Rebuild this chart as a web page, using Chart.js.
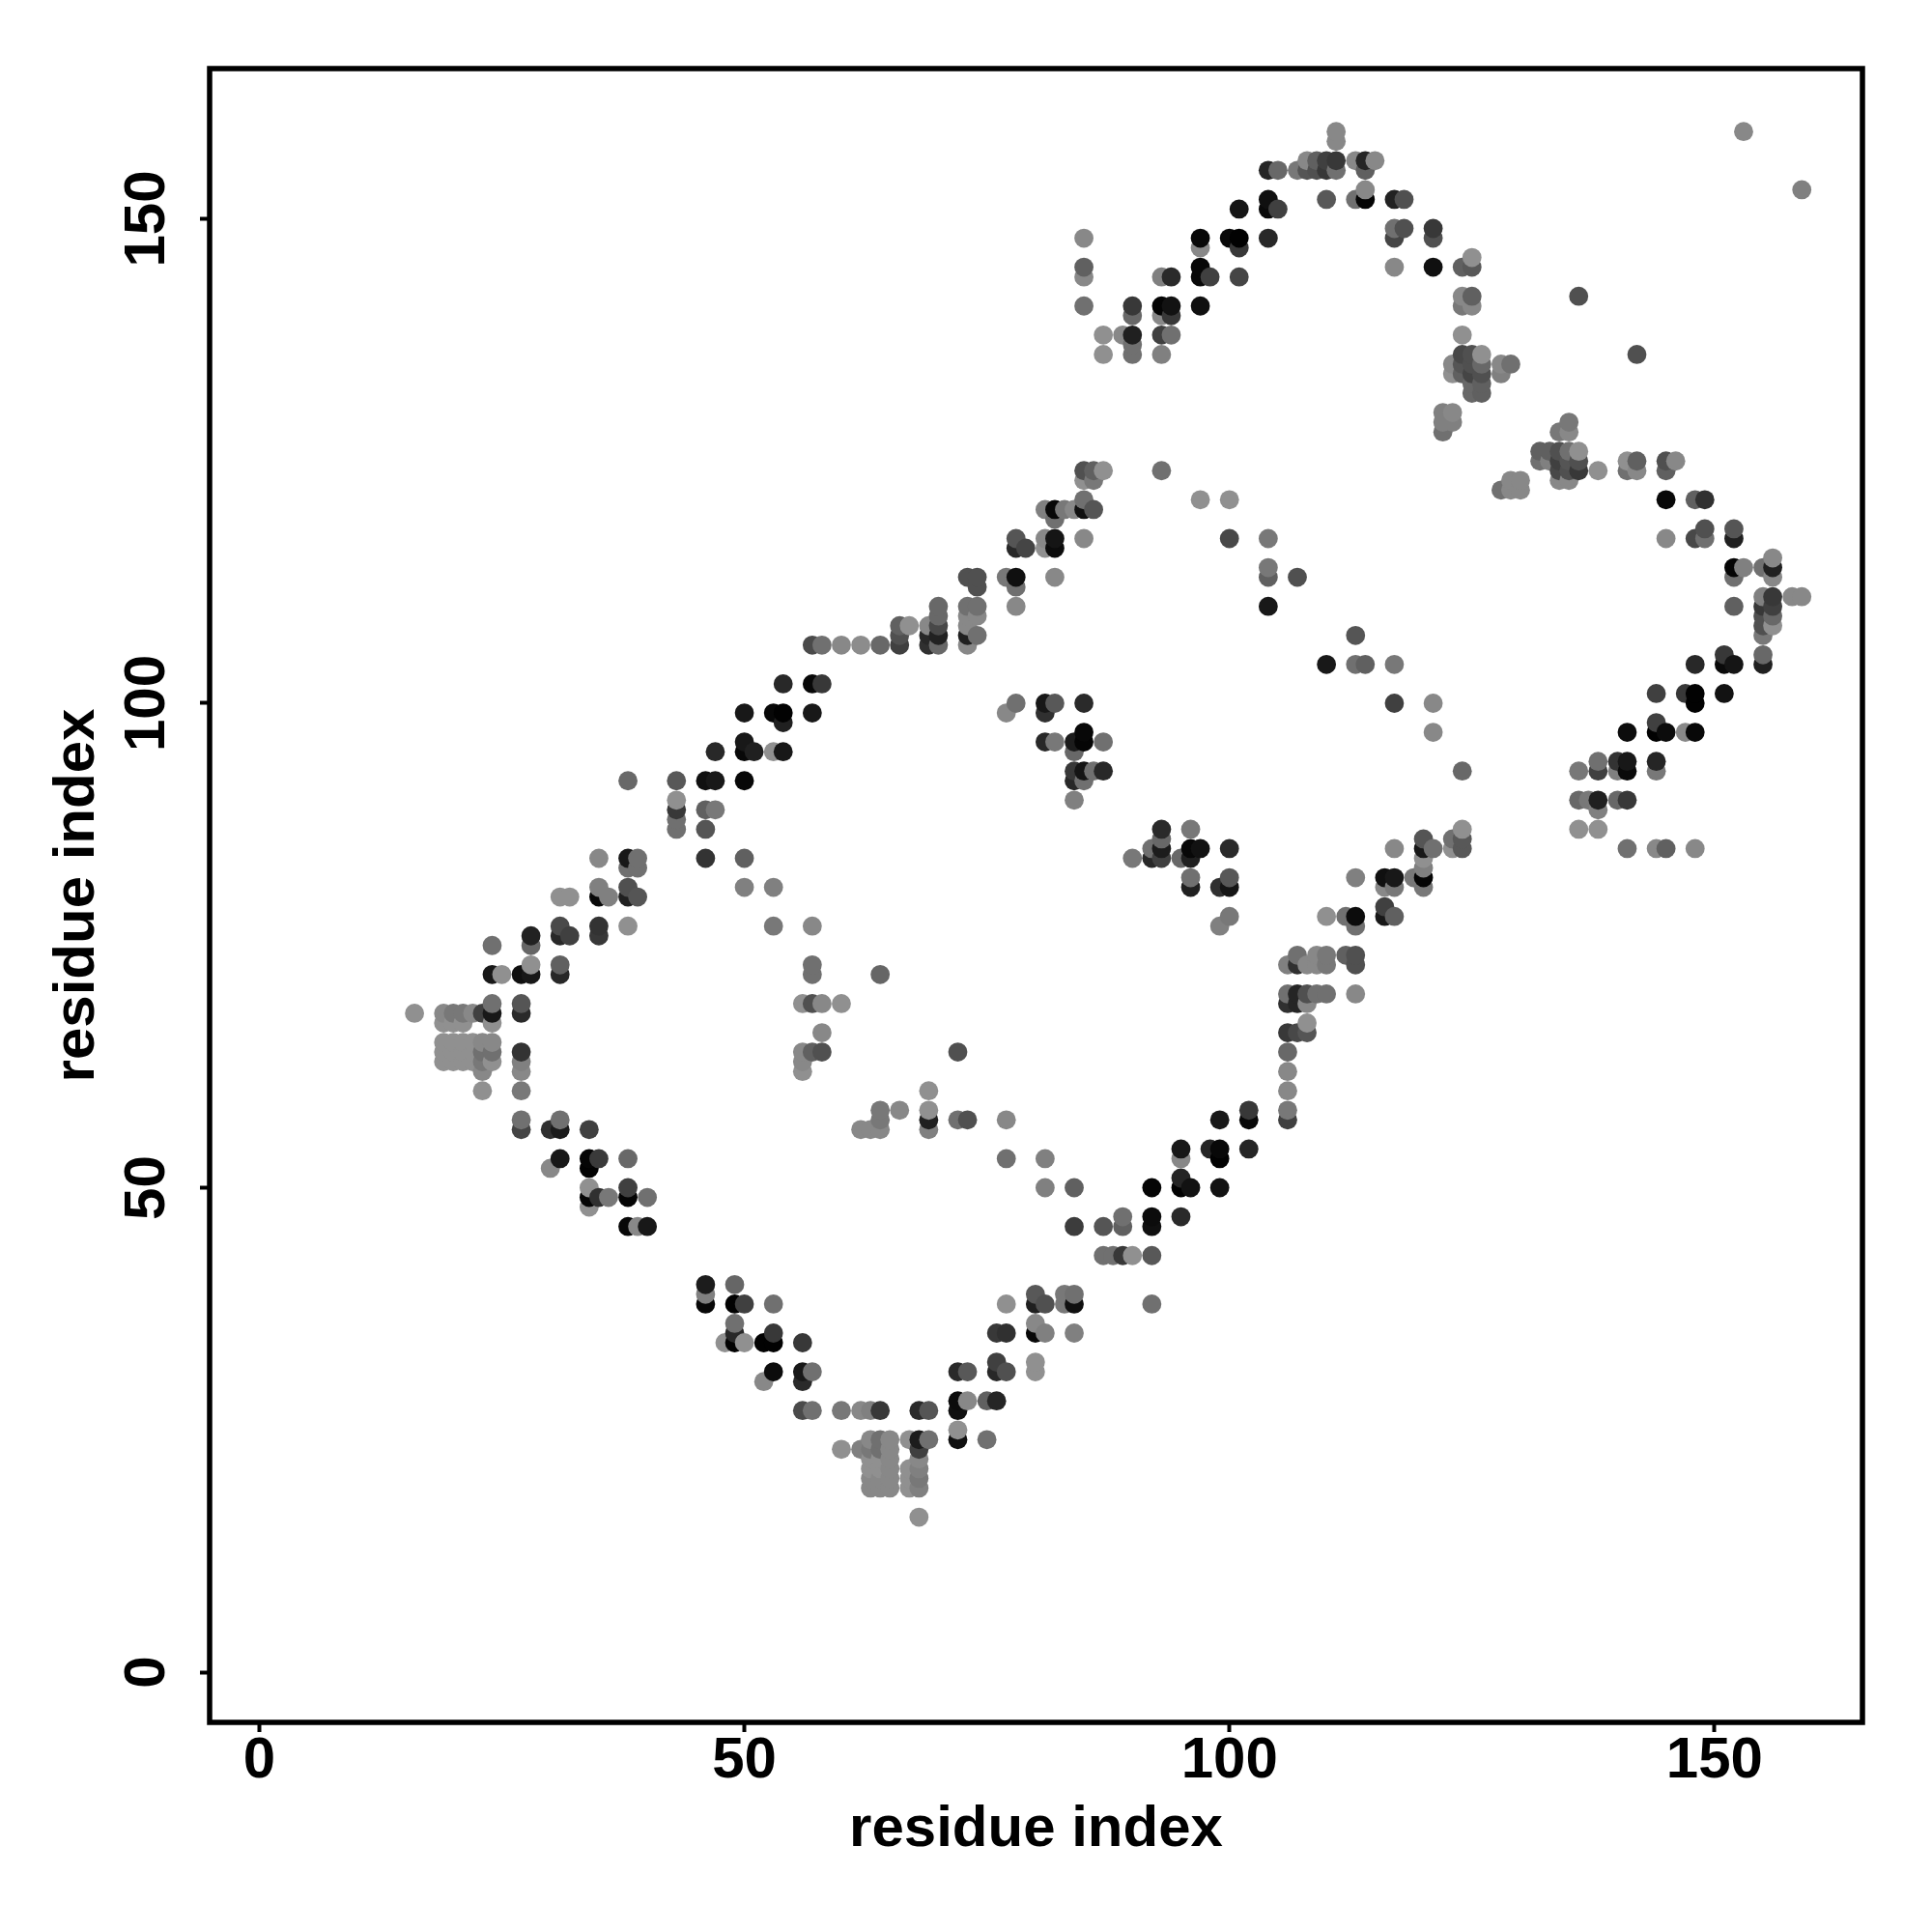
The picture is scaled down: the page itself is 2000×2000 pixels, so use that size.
<!DOCTYPE html>
<html>
<head>
<meta charset="utf-8">
<style>html,body{margin:0;padding:0;background:#fff}#wrap{width:2000px;height:2000px}</style>
<script src="https://cdn.jsdelivr.net/npm/chart.js@4"></script>
</head>
<body>
<div id="wrap"><canvas id="c" width="2000" height="2000"></canvas></div>
<script>
const axisTicks = [0, 50, 100, 150];
const axisTitle = 'residue index';

const residueI = [16,19,20,21,22,23,24,25,27,28,30,31,32,34,35,36,38,39,40,43,46,47,48,49,50,51,52,53,54,56,57,58,60,62,63,64,65,66,67,68,69,70,72,73,74,75,76,77,78,79,80,81,82,83,84,85,86,87,88,89,90,92,93,94,95,96,97,98,99,100,101,102,104,105,106,107,108,109,110,111,112,113,114,115,116,117,118,119,120,121,122,123,124,125,126,128,129,130,132,133,134,135,136,137,138,140,141,142,144,145,146,147,148,149,151,152,153,155,156,158,159];

const partnerJ = [
[68],[63,64,65,67,68],[63,64,65,67,68],[63,64,65,67,68],[63,64,65,68],[60,62,63,64,65,68],[63,64,65,67,68,69,72,75],[72],
[56,57,60,62,63,64,68,69,72],[72,73,75,76],[52,56],[53,56,57,72,73,76,77,80],[76,80],[48,49,50,52,53,56],[49,53,76,77,80,81,84],[49,80],
[46,49,50,53,77,80,81,83,84,92],[46,80,83,84],[46,49],[87,88,89,90,92],[38,39,40,84,87,89,92],[89,92,95],[34],[34,35,36,38,40],
[34,38,81,84,92,95,96,99],[95],[30,34],[31,34,35,38,77,81,95,99],[95,98,99,102],[27,30,31,34,62,63,64,69],[27,31,64,69,72,73,77,99,102,106],[64,66,69,102,106],
[23,27,69,106],[23,27,56,106],[19,20,21,22,23,24,27,56],[19,20,21,22,23,24,27,56,57,58,72,106],[19,20,21,22,23,24],[58,106,107,108],[19,20,21,24,108],[16,19,20,21,22,23,24,27],
[24,27,56,57,58,60,106,107,108],[106,107,108,109,110],[24,25,27,28,31,57,64],[28,31,57,106,107,108,109,110,113],[107,109,110,112,113],[24,28],[28,31,32,35],[31,35,38,53,57,99,113],
[100,110,112,113,116,117],[116],[31,32,35,36,38,39],[35,38,50,53,96,99,100,116,117,120],[96,100,113,116,117,119,120],[38,39,120],[35,38,39,46,50,90,92,93,95,96,120],[92,93,96,97,100,117,120,121,123,124,141,144,145,148],
[93,120,123,124],[43,46,93,96,124,136,138],[43],[43,46,47,138],[43,84,136,137,138,140,141],[38,43,46,47,50,84,85],[84,85,86,87,124,136,138,140,141,144],[138,140,141,144],
[47,50,51,53,54,84],[50,81,82,84,85,87],[85,121,141,144,145,147,148],[54,144],[50,53,54,57,77,81],[78,81,82,85,117,121,148],[144,147,148,151],[54,57,58],
[110,113,114,117,148,151,152,155],[151,155],[57,58,60,62,64,66,69,70,73],[66,69,70,73,74,113,155],[66,67,69,70,73,155,156],[70,73,74,155,156],[70,73,74,78,104,152,155,156],[155,156,158,159],
[74,78],[70,73,74,77,78,82,104,107,152,156],[104,152,153,155,156],[156],[78,79,81,82],[78,81,82,85,100,104,145,148,149,152],[149,152],[82],
[81,82,83,84,85,86],[85,97,100,145,148,149],[128,129,130],[85,86,129,130,134,135],[85,86,87,93,134,135,136,138,141,142,145],[132,133,134,135,136,141,142,145,146],[132,133,134,135,136],[122,134,135],
[122,123,135],[122,123],[125,126],[125,126],[123,124,125,126,128],[123,124,125,126,128,129],[87,90,93,124,125,126,142],[90],
[87,89,90,93,94,124],[90,93,94],[85,90,93,94,97,124,125],[124,125,136],[85,93,94,97,98,101],[85,97,117,121,124,125],[125],[97,101],
[85,97,100,101,104,117,121],[117,118,121],[101,104,105],[104,110,113,114,117,118],[114,159],[104,105,107,108,109,110,111,114],[108,109,110,111,113,114,115],[111],[111,153]
];

const shadeLevel = [
[0x90],[0x90,0x90,0x90,0x90,0x88],[0x90,0x90,0x90,0x90,0x78],[0x90,0x90,0x90,0x90,0x78],[0x90,0x90,0x90,0x88],[0x90,0x88,0x78,0x70,0x88,0x40],[0x90,0x70,0x88,0x90,0x18,0x70,0x18,0x70],[0x90],
[0x44,0x70,0x78,0x88,0x80,0x33,0x2a,0x55,0x10],[0x18,0x90,0x66,0x22],[0x88,0x30],[0x18,0x1a,0x70,0x28,0x60,0x28,0x4a,0x90],[0x40,0x90],[0x90,0x05,0x90,0x02,0x05,0x40],[0x30,0x3a,0x38,0x33,0x08,0x80,0x88],[0x78,0x80],
[0x08,0x05,0x40,0x68,0x90,0x20,0x50,0x70,0x18,0x68],[0x88,0x55,0x70,0x70],[0x18,0x70],[0x70,0x70,0x38,0x90,0x58],[0x08,0x80,0x1c,0x33,0x55,0x60,0x10],[0x78,0x18,0x28],[0x90],[0x02,0x28,0x70,0x02,0x66],
[0x90,0x40,0x80,0x60,0x08,0x08,0x18,0x18],[0x20],[0x88,0x02],[0x0c,0x02,0x38,0x70,0x78,0x80,0x90,0x08],[0x18,0x20,0x02,0x28],[0x4a,0x2a,0x18,0x38,0x90,0x88,0x88,0x90],[0x70,0x70,0x60,0x50,0x70,0x70,0x88,0x18,0x08,0x4a],[0x50,0x88,0x88,0x38,0x70],
[0x90,0x78,0x90,0x88],[0x80,0x88,0x88,0x8c],[0x88,0x88,0x90,0x90,0x78,0x88,0x80,0x88],[0x88,0x88,0x90,0x90,0x70,0x70,0x38,0x88,0x78,0x78,0x66,0x68],[0x88,0x88,0x88,0x88,0x88,0x88],[0x88,0x40,0x50,0x60],[0x90,0x90,0x90,0x90,0x90],[0x90,0x80,0x78,0x80,0x88,0x40,0x1c,0x2a],
[0x70,0x55,0x80,0x20,0x90,0x90,0x30,0x28,0x88],[0x68,0x22,0x48,0x68,0x68],[0x10,0x90,0x10,0x0c,0x2a,0x70,0x50],[0x88,0x58,0x50,0x88,0x20,0x88,0x88,0x70,0x50],[0x70,0x88,0x70,0x50,0x50],[0x70,0x60],[0x25,0x28,0x40,0x38],[0x50,0x30,0x90,0x70,0x88,0x88,0x78],
[0x70,0x88,0x70,0x10,0x28,0x55],[0x45],[0x90,0x90,0x08,0x88,0x20,0x58],[0x80,0x50,0x80,0x80,0x28,0x30,0x18,0x90,0x88,0x80],[0x78,0x58,0x88,0x0c,0x15,0x70,0x08],[0x78,0x78,0x78],[0x80,0x10,0x70,0x3c,0x60,0x80,0x28,0x38,0x68,0x1c,0x88],[0x70,0x15,0x05,0x08,0x2a,0x88,0x10,0x70,0x90,0x50,0x70,0x88,0x60,0x88],
[0x70,0x55,0x78,0x60],[0x70,0x55,0x28,0x70,0x90,0x90,0x90],[0x70],[0x38,0x60,0x70,0x88],[0x90,0x78,0x70,0x70,0x20,0x68,0x38],[0x70,0x58,0x10,0x0c,0x05,0x28,0x70],[0x40,0x1c,0x68,0x2a,0x70,0x80,0x40,0x88,0x05,0x80],[0x70,0x38,0x12,0x2a],
[0x2a,0x02,0x25,0x88,0x18,0x68],[0x12,0x20,0x70,0x20,0x08,0x78],[0x12,0x90,0x10,0x08,0x08,0x88,0x08],[0x25,0x40],[0x12,0x02,0x08,0x18,0x80,0x30],[0x78,0x15,0x58,0x2a,0x48,0x90,0x08],[0x45,0x38,0x02,0x15],[0x25,0x08,0x38],
[0x18,0x60,0x78,0x78,0x28,0x0a,0x10,0x25],[0x40,0x68],[0x40,0x78,0x88,0x88,0x68,0x38,0x30,0x70,0x80],[0x48,0x25,0x25,0x30,0x70,0x50,0x78],[0x55,0x90,0x88,0x50,0x88,0x55,0x88],[0x70,0x88,0x88,0x50,0x60],[0x70,0x78,0x78,0x90,0x18,0x58,0x38,0x40],[0x70,0x38,0x88,0x88],
[0x60,0x70],[0x88,0x50,0x50,0x70,0x0c,0x80,0x70,0x55,0x70,0x88],[0x60,0x05,0x88,0x60,0x25],[0x88],[0x18,0x40,0x88,0x10],[0x60,0x78,0x18,0x88,0x40,0x78,0x88,0x45,0x70,0x22],[0x50,0x50],[0x78],
[0x78,0x05,0x80,0x90,0x18,0x55],[0x70,0x88,0x88,0x10,0x50,0x38],[0x70,0x80,0x80],[0x90,0x70,0x80,0x88,0x90,0x88],[0x58,0x58,0x90,0x68,0x60,0x55,0x48,0x90,0x78,0x88,0x60],[0x68,0x68,0x45,0x50,0x50,0x88,0x60,0x58,0x90],[0x60,0x60,0x50,0x68,0x90],[0x70,0x80,0x88],
[0x88,0x88,0x70],[0x88,0x88],[0x70,0x60],[0x80,0x60],[0x88,0x48,0x40,0x50,0x78],[0x88,0x50,0x55,0x70,0x88,0x78],[0x90,0x68,0x78,0x38,0x50,0x90,0x50],[0x78],
[0x90,0x80,0x20,0x40,0x70,0x90],[0x68,0x80,0x33],[0x70,0x38,0x0a,0x18,0x0c,0x70,0x90],[0x88,0x60,0x50],[0x88,0x78,0x25,0x02,0x40,0x40],[0x60,0x0c,0x88,0x08,0x60,0x50],[0x88],[0x88,0x38],
[0x88,0x08,0x02,0x02,0x28,0x48,0x60],[0x70,0x50,0x30],[0x12,0x0a,0x38],[0x15,0x60,0x70,0x05,0x20,0x55],[0x80,0x88],[0x20,0x68,0x78,0x50,0x50,0x38,0x80,0x70],[0x90,0x68,0x40,0x38,0x88,0x20,0x88],[0x88],[0x88,0x80]
];

const xs = [], ys = [], colors = [];
residueI.forEach((i, c) => {
  partnerJ[c].forEach((j, k) => {
    const g = shadeLevel[c][k];
    xs.push(i); ys.push(j); colors.push(`rgb(${g},${g},${g})`);
  });
});

const frame = {
  id: 'frame',
  afterDraw(chart) {
    const a = chart.chartArea, ctx = chart.ctx;
    ctx.save();
    ctx.strokeStyle = '#000';
    ctx.lineWidth = 5.5;
    ctx.strokeRect(a.left, a.top, a.right - a.left, a.bottom - a.top);
    ctx.restore();
  }
};

const font = { family: '"Liberation Sans", Arial, sans-serif', size: 60, weight: 'bold' };
const setTicks = s => { s.ticks = axisTicks.map(v => ({ value: v })); };
const commonGrid = { drawOnChartArea: false, drawTicks: true, tickLength: 10, tickWidth: 4, tickColor: '#000' };

new Chart(document.getElementById('c'), {
  type: 'scatter',
  data: { datasets: [{
    data: xs.map((x, n) => ({ x, y: ys[n] })),
    pointBackgroundColor: colors,
    pointBorderWidth: 0,
    pointRadius: 9.9,
    pointHoverRadius: 9.9
  }] },
  options: {
    responsive: false,
    animation: false,
    events: [],
    layout: { padding: { top: 71, right: 72, left: 0, bottom: 0 } },
    plugins: { legend: { display: false }, tooltip: { enabled: false } },
    scales: {
      x: {
        type: 'linear', min: -5.12, max: 165.25,
        afterBuildTicks: setTicks,
        afterFit: s => { s.height = 217; },
        grid: commonGrid,
        border: { display: false },
        ticks: { font, color: '#000', padding: -6, maxRotation: 0, minRotation: 0, autoSkip: false },
        title: { display: true, text: axisTitle, font, color: '#000', padding: { top: 0, bottom: 70 } }
      },
      y: {
        type: 'linear', min: -5.18, max: 165.5,
        afterBuildTicks: setTicks,
        afterFit: s => { s.width = 217; },
        grid: commonGrid,
        border: { display: false },
        ticks: { font, color: '#000', padding: 3, maxRotation: 90, minRotation: 90, autoSkip: false, crossAlign: 'center' },
        title: { display: true, text: axisTitle, font, color: '#000', padding: { top: 44, bottom: 0 } }
      }
    }
  },
  plugins: [frame]
});
</script>
</body>
</html>
